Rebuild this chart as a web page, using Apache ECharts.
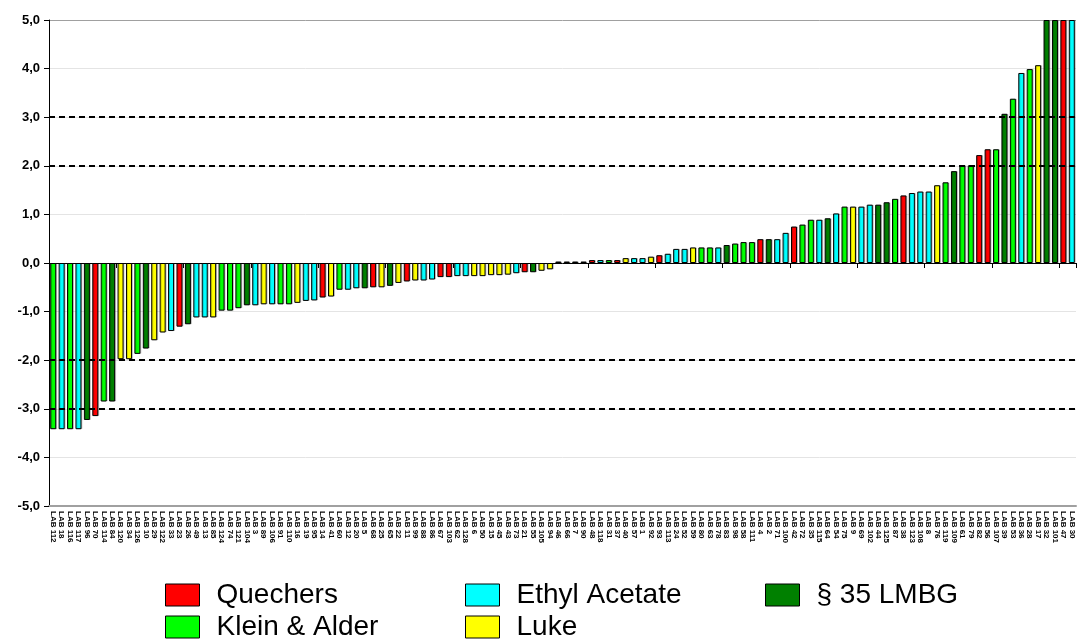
<!DOCTYPE html>
<html lang="de">
<head>
    <meta charset="utf-8">
    <title>LAB</title>
    <script src="https://cdn.jsdelivr.net/npm/echarts@6/dist/echarts.min.js"></script>
    <style>
        html, body { margin: 0; padding: 0; background: #fff; }
        #main { width: 1079px; height: 639px; }
    </style>
</head>
<body>
<div id="main"></div>
<script type="text/javascript">

    // Kategorien (Labore), sortiert nach Wert
    var labs = ['LAB 112','LAB 18','LAB 116','LAB 117','LAB 96','LAB 70','LAB 114','LAB 84','LAB 120','LAB 34',
        'LAB 126','LAB 10','LAB 29','LAB 122','LAB 33','LAB 23','LAB 26','LAB 49','LAB 13','LAB 85',
        'LAB 124','LAB 74','LAB 121','LAB 104','LAB 3','LAB 89','LAB 106','LAB 91','LAB 110','LAB 16',
        'LAB 19','LAB 95','LAB 14','LAB 41','LAB 60','LAB 12','LAB 20','LAB 5','LAB 68','LAB 25',
        'LAB 65','LAB 22','LAB 11','LAB 99','LAB 88','LAB 86','LAB 67','LAB 103','LAB 62','LAB 128',
        'LAB 6','LAB 50','LAB 15','LAB 45','LAB 43','LAB 73','LAB 21','LAB 55','LAB 105','LAB 94',
        'LAB 46','LAB 66','LAB 7','LAB 90','LAB 48','LAB 118','LAB 31','LAB 37','LAB 40','LAB 57',
        'LAB 1','LAB 92','LAB 93','LAB 113','LAB 24','LAB 52','LAB 59','LAB 80','LAB 63','LAB 78',
        'LAB 83','LAB 98','LAB 58','LAB 111','LAB 4','LAB 2','LAB 71','LAB 100','LAB 42','LAB 72',
        'LAB 35','LAB 115','LAB 64','LAB 54','LAB 75','LAB 9','LAB 69','LAB 102','LAB 44','LAB 125',
        'LAB 87','LAB 38','LAB 123','LAB 108','LAB 8','LAB 76','LAB 119','LAB 109','LAB 61','LAB 79',
        'LAB 82','LAB 56','LAB 107','LAB 39','LAB 53','LAB 36','LAB 28','LAB 17','LAB 32','LAB 101',
        'LAB 47','LAB 30'];

    // z-Scores
    var scores = [-3.42,-3.42,-3.42,-3.42,-3.23,-3.15,-2.85,-2.85,-1.98,-1.98,
        -1.87,-1.76,-1.59,-1.43,-1.40,-1.31,-1.26,-1.12,-1.12,-1.12,
        -0.98,-0.98,-0.93,-0.87,-0.87,-0.85,-0.85,-0.85,-0.85,-0.82,
        -0.78,-0.77,-0.71,-0.69,-0.55,-0.55,-0.52,-0.52,-0.50,-0.50,
        -0.47,-0.41,-0.38,-0.36,-0.36,-0.34,-0.29,-0.29,-0.27,-0.27,
        -0.27,-0.27,-0.25,-0.25,-0.24,-0.21,-0.19,-0.19,-0.16,-0.13,
        0.03,0.03,0.03,0.03,0.06,0.06,0.06,0.06,0.10,0.10,
        0.10,0.13,0.16,0.19,0.29,0.29,0.32,0.32,0.32,0.32,
        0.37,0.40,0.43,0.43,0.49,0.49,0.49,0.62,0.75,0.79,
        0.89,0.89,0.92,1.02,1.16,1.16,1.16,1.20,1.20,1.25,
        1.32,1.39,1.44,1.47,1.47,1.60,1.66,1.89,2.01,2.01,
        2.22,2.34,2.34,3.07,3.38,3.91,3.99,4.07,5.0,5.0,
        5.0,5.0];

    // Methode je Labor: R=Quechers, K=Klein & Alder, C=Ethyl Acetate, Y=Luke, D=§ 35 LMBG
    var methods = ['K','C','K','C','D','R','K','D','Y','Y',
        'K','D','Y','Y','C','R','D','C','C','Y',
        'K','K','K','D','C','Y','C','K','K','Y',
        'C','C','R','Y','K','C','C','D','R','Y',
        'D','Y','R','Y','C','C','R','R','C','C',
        'Y','Y','Y','Y','Y','C','R','D','Y','Y',
        'R','Y','D','Y','R','C','K','R','Y','C',
        'C','Y','R','C','C','C','Y','K','K','C',
        'D','K','K','K','R','D','C','C','R','K',
        'K','C','D','C','K','Y','C','C','D','D',
        'K','R','C','C','C','Y','K','D','K','K',
        'R','R','K','D','K','C','K','Y','D','D',
        'R','C'];

    var methodCodes = ['R','K','C','Y','D'];
    var methodNames = ['Quechers','Klein & Alder','Ethyl Acetate','Luke','§ 35 LMBG'];
    var methodColors = ['#ff0000','#00ff00','#00ffff','#ffff00','#008000'];

    var yTicks = [-5,-4,-3,-2,-1,0,1,2,3,4,5];

    var myChart = echarts.init(document.getElementById('main'));

    var series = methodCodes.map(function (code, k) {
        return {
            name: methodNames[k],
            type: 'bar',
            xAxisIndex: 0,
            barWidth: 6,
            barGap: '-100%',
            itemStyle: {
                color: methodColors[k],
                borderColor: '#000',
                borderWidth: 1,
                shadowColor: 'rgba(0,0,0,0.18)',
                shadowOffsetX: 1,
                shadowOffsetY: 0
            },
            data: scores.map(function (v, i) { return methods[i] === code ? v : null; })
        };
    });

    // gestrichelte Grenzlinien bei |z| = 2 und 3
    series[0].markLine = {
        silent: true,
        symbol: 'none',
        label: { show: false },
        lineStyle: { color: '#000', type: [6, 4], width: 2 },
        data: [{ yAxis: 2 }, { yAxis: 3 }, { yAxis: -2 }, { yAxis: -3 }]
    };

    // Legende: jede Eintragung einzeln positioniert
    var legendPos = [
        { left: 165, top: 580 },
        { left: 165, top: 612 },
        { left: 465, top: 580 },
        { left: 465, top: 612 },
        { left: 765, top: 580 }
    ];
    var legends = methodNames.map(function (name, k) {
        return {
            data: [name],
            left: legendPos[k].left,
            top: legendPos[k].top,
            padding: 0,
            icon: 'rect',
            itemWidth: 34,
            itemHeight: 22,
            selectedMode: false,
            itemStyle: { borderColor: '#000', borderWidth: 1 },
            textStyle: {
                fontFamily: 'Liberation Sans',
                fontSize: 28,
                color: '#000',
                lineHeight: 30,
                padding: [0, 0, 0, 12]
            }
        };
    });

    var option = {
        backgroundColor: '#fff',
        animation: false,
        legend: legends,
        grid: { left: 49, right: 3, top: 20, bottom: 133 },
        xAxis: [{
            type: 'category',
            data: labs,
            position: 'bottom',
            axisLine: { onZero: false, lineStyle: { color: '#a0a0a0', width: 2 } },
            axisTick: { show: false },
            axisLabel: {
                interval: 0,
                rotate: -90,
                margin: 5,
                fontFamily: 'Liberation Sans',
                fontWeight: 'bold',
                fontSize: 8,
                color: '#000'
            }
        }, {
            type: 'category',
            data: labs,
            position: 'top',
            axisLine: { onZero: true, lineStyle: { color: '#000', width: 1 } },
            axisTick: { show: true, inside: true, length: 5, lineStyle: { color: '#000' } },
            axisLabel: { show: false },
            splitLine: { show: false }
        }],
        yAxis: {
            type: 'value',
            min: yTicks[0],
            max: yTicks[yTicks.length - 1],
            interval: 1,
            axisLine: { show: true, lineStyle: { color: '#000', width: 1 } },
            axisTick: { show: true, length: 5, lineStyle: { color: '#000' } },
            axisLabel: {
                margin: 9,
                fontFamily: 'Liberation Sans',
                fontWeight: 'bold',
                fontSize: 13,
                color: '#000',
                formatter: function (v) { return v.toFixed(1).replace('.', ','); }
            },
            splitLine: {
                show: true,
                lineStyle: {
                    color: ['#a0a0a0','#e4e4e4','#e4e4e4','#e4e4e4','#e4e4e4','#e4e4e4',
                        '#e4e4e4','#e4e4e4','#e4e4e4','#e4e4e4','#a0a0a0'],
                    width: 1
                }
            }
        },
        series: series
    };

    myChart.setOption(option);

</script>
</body>
</html>
